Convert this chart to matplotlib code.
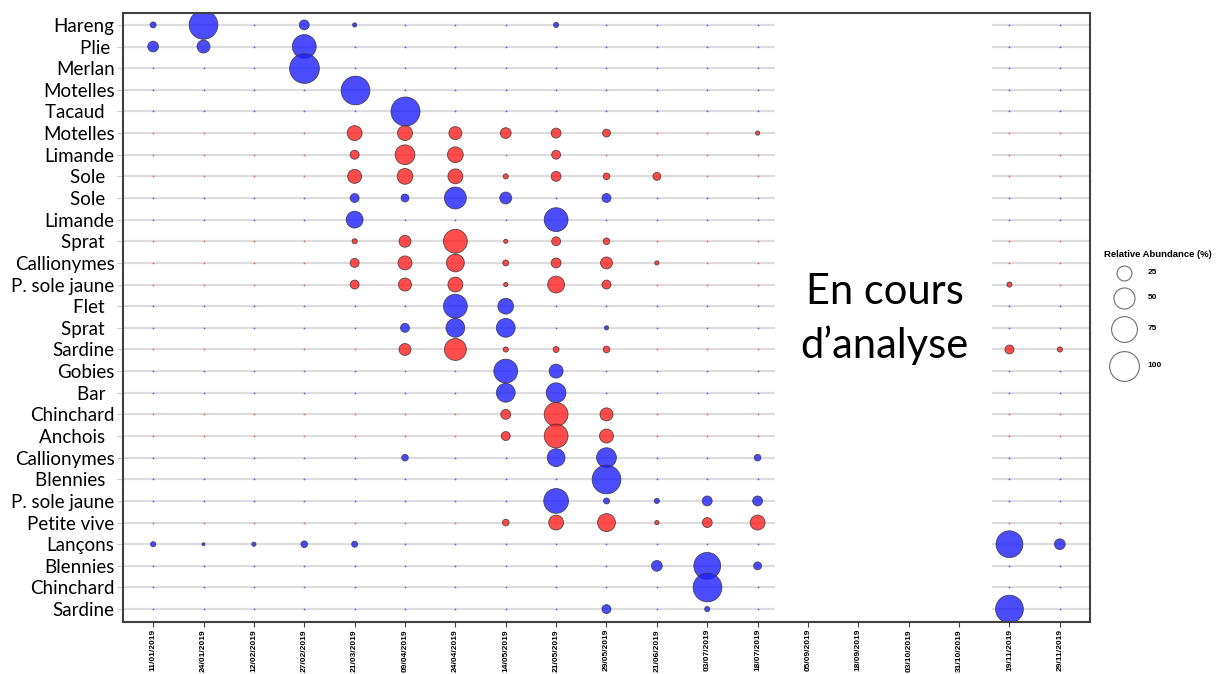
import numpy as np
import matplotlib.pyplot as plt
from matplotlib.patches import Rectangle

# sampling dates (x) and species rows (y, top to bottom)
dates = ["11/01/2019", "24/01/2019", "12/02/2019", "27/02/2019", "21/03/2019",
         "09/04/2019", "24/04/2019", "14/05/2019", "21/05/2019", "29/05/2019",
         "21/06/2019", "03/07/2019", "18/07/2019", "05/09/2019", "18/09/2019",
         "03/10/2019", "31/10/2019", "19/11/2019", "29/11/2019"]

species = ["Hareng", "Plie ", "Merlan", "Motelles", "Tacaud  ", "Motelles",
           "Limande", "Sole  ", "Sole  ", "Limande", "Sprat  ", "Callionymes",
           "P. sole jaune", "Flet  ", "Sprat  ", "Sardine", "Gobies", "Bar  ",
           "Chinchard", "Anchois  ", "Callionymes", "Blennies  ", "P. sole jaune",
           "Petite vive", "Lançons", "Blennies", "Chinchard", "Sardine"]

# b = blue series, r = red series
group = ["b", "b", "b", "b", "b", "r", "r", "r", "b", "b", "r", "r", "r", "b",
         "b", "r", "b", "b", "r", "r", "b", "b", "b", "r", "b", "b", "b", "b"]

# relative abundance (%), one row per species
abund = [
    [4, 93, 0, 11, 2, 0, 0, 0, 3, 0, 0, 0, 0, 0, 0, 0, 0, 0, 0],
    [13, 19, 0, 64, 0, 0, 0, 0, 0, 0, 0, 0, 0, 0, 0, 0, 0, 0, 0],
    [0, 0, 0, 100, 0, 0, 0, 0, 0, 0, 0, 0, 0, 0, 0, 0, 0, 0, 0],
    [0, 0, 0, 0, 93, 0, 0, 0, 0, 0, 0, 0, 0, 0, 0, 0, 0, 0, 0],
    [0, 0, 0, 0, 0, 95, 0, 0, 0, 0, 0, 0, 0, 0, 0, 0, 0, 0, 0],
    [0, 0, 0, 0, 25, 25, 19, 13, 11, 7, 0, 0, 2, 0, 0, 0, 0, 0, 0],
    [0, 0, 0, 0, 9, 44, 28, 0, 9, 0, 0, 0, 0, 0, 0, 0, 0, 0, 0],
    [0, 0, 0, 0, 22, 28, 25, 3, 11, 5, 7, 0, 0, 0, 0, 0, 0, 0, 0],
    [0, 0, 0, 0, 9, 7, 54, 16, 0, 9, 0, 0, 0, 0, 0, 0, 0, 0, 0],
    [0, 0, 0, 0, 32, 0, 0, 0, 64, 0, 0, 0, 0, 0, 0, 0, 0, 0, 0],
    [0, 0, 0, 0, 3, 16, 64, 2, 9, 5, 0, 0, 0, 0, 0, 0, 0, 0, 0],
    [0, 0, 0, 0, 9, 22, 36, 4, 11, 16, 2, 0, 0, 0, 0, 0, 0, 0, 0],
    [0, 0, 0, 0, 9, 19, 25, 2, 32, 9, 0, 0, 0, 0, 0, 0, 0, 3, 0],
    [0, 0, 0, 0, 0, 0, 64, 28, 0, 0, 0, 0, 0, 0, 0, 0, 0, 0, 0],
    [0, 0, 0, 0, 0, 9, 40, 40, 0, 2, 0, 0, 0, 0, 0, 0, 0, 0, 0],
    [0, 0, 0, 0, 0, 16, 54, 3, 4, 5, 0, 0, 0, 0, 0, 0, 0, 9, 3],
    [0, 0, 0, 0, 0, 0, 0, 64, 22, 0, 0, 0, 0, 0, 0, 0, 0, 0, 0],
    [0, 0, 0, 0, 0, 0, 0, 40, 44, 0, 0, 0, 0, 0, 0, 0, 0, 0, 0],
    [0, 0, 0, 0, 0, 0, 0, 11, 64, 19, 0, 0, 0, 0, 0, 0, 0, 0, 0],
    [0, 0, 0, 0, 0, 0, 0, 9, 64, 22, 0, 0, 0, 0, 0, 0, 0, 0, 0],
    [0, 0, 0, 0, 0, 5, 0, 0, 36, 44, 0, 0, 5, 0, 0, 0, 0, 0, 0],
    [0, 0, 0, 0, 0, 0, 0, 0, 0, 93, 0, 0, 0, 0, 0, 0, 0, 0, 0],
    [0, 0, 0, 0, 0, 0, 0, 0, 69, 4, 3, 11, 11, 0, 0, 0, 0, 0, 0],
    [0, 0, 0, 0, 0, 0, 0, 5, 25, 36, 2, 11, 25, 0, 0, 0, 0, 0, 0],
    [3, 1, 2, 5, 4, 0, 0, 0, 0, 0, 0, 0, 0, 0, 0, 0, 0, 81, 13],
    [0, 0, 0, 0, 0, 0, 0, 0, 0, 0, 13, 81, 7, 0, 0, 0, 0, 0, 0],
    [0, 0, 0, 0, 0, 0, 0, 0, 0, 0, 0, 93, 0, 0, 0, 0, 0, 0, 0],
    [0, 0, 0, 0, 0, 0, 0, 0, 0, 9, 0, 3, 0, 0, 0, 0, 0, 87, 0],
]

legend_vals = [25, 50, 75, 100]

colors = {"b": "#1f1fff", "r": "#ff1f1f"}
K = 4.6  # marker area (pt^2) per percent

fig = plt.figure(figsize=(12.17, 6.74), dpi=100)
ax = fig.add_axes([0.101, 0.077, 0.7947, 0.9037])

xs = np.arange(len(dates))
for i, row in enumerate(abund):
    row = np.asarray(row, dtype=float)
    ax.axhline(i, color="#dcdcdc", lw=1.6, zorder=1)
    c = colors[group[i]]
    nz = row > 0
    # tiny dots where nothing was caught
    ax.scatter(xs[~nz], np.full((~nz).sum(), i), s=1.6, color=c, alpha=0.7,
               linewidths=0, zorder=2)
    ax.scatter(xs[nz], np.full(nz.sum(), i), s=K * row[nz], color=c, alpha=0.8,
               edgecolors="#303030", linewidths=0.6, zorder=3)

# analysis not finished for these dates
ax.add_patch(Rectangle((12.34, -1), 4.31, 30, facecolor="white",
                       edgecolor="none", zorder=4))
ax.text(14.52, 13.6, "En cours\nd’analyse", fontsize=30, family="Lato",
        ha="center", va="center", linespacing=1.45, zorder=5)

ax.set_xlim(-0.6, 18.6)
ax.set_ylim(27.6, -0.55)
ax.set_xticks(xs)
ax.set_xticklabels(dates, rotation=90, fontsize=6, fontweight="bold",
                   family="Liberation Sans")
ax.set_yticks(np.arange(len(species)))
ax.set_yticklabels(species, fontsize=13.5, family="Lato")
ax.tick_params(axis="x", length=3.5, color="#404040", pad=1.5)
ax.tick_params(axis="y", length=4, color="#c8c8c8", pad=2)
for sp in ax.spines.values():
    sp.set_color("#404040")
    sp.set_linewidth(1.5)
    sp.set_zorder(10)

# size legend
fig.text(0.907, 0.619, "Relative Abundance (%)", fontsize=6.8, fontweight="bold",
         family="Liberation Sans")
leg_y = [0.595, 0.558, 0.512, 0.457]
for v, yy in zip(legend_vals, leg_y):
    fig.add_artist(plt.Line2D([0.9235], [yy], marker="o", linestyle="none",
                              markersize=np.sqrt(K * v), markerfacecolor="white",
                              markeredgecolor="#707070", markeredgewidth=0.8,
                              transform=fig.transFigure))
    fig.text(0.943, yy, str(v), fontsize=6, fontweight="bold",
             family="Liberation Sans", va="center")

fig.savefig("out.png", dpi=100)
